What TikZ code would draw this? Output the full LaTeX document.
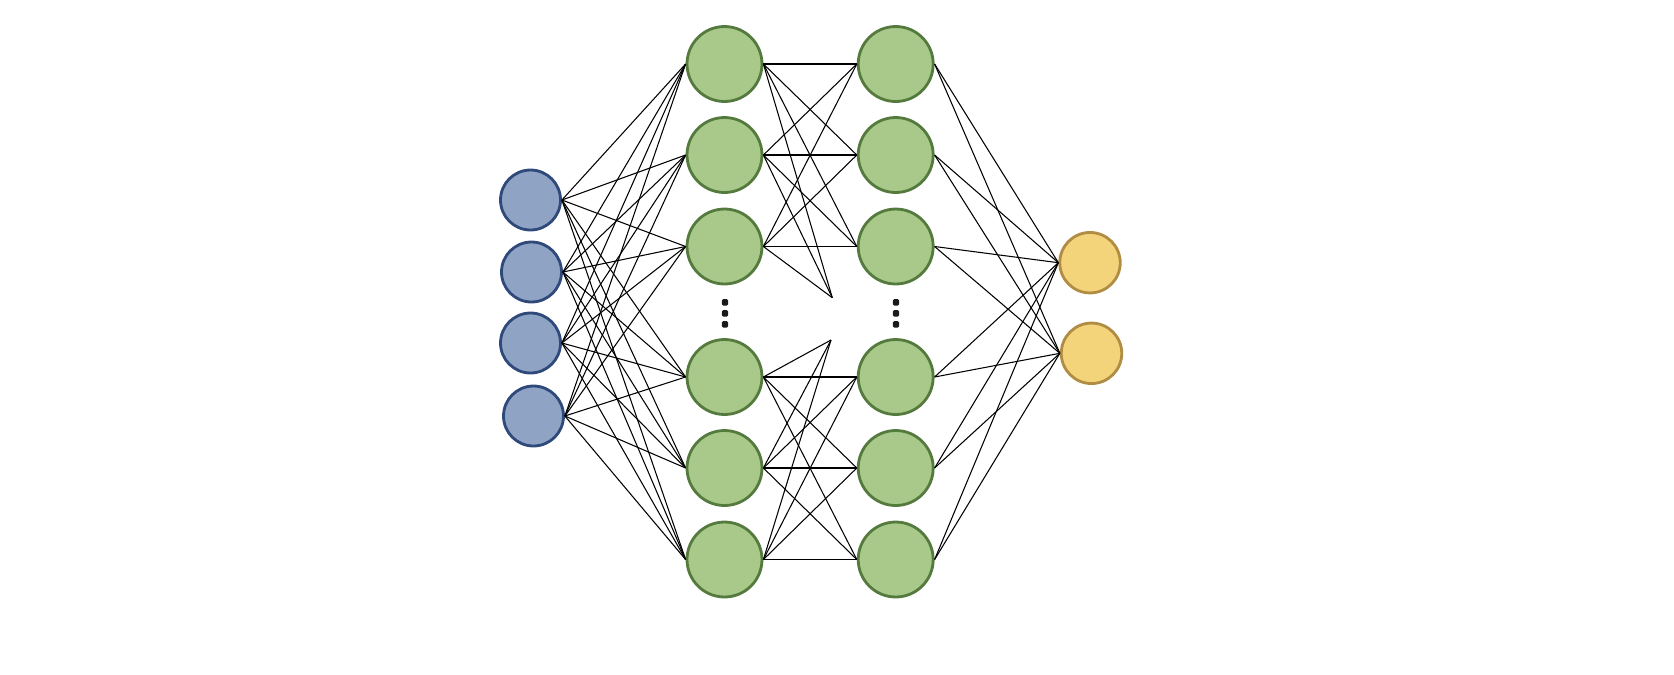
\documentclass[tikz,border=0pt]{standalone}
\usepackage{tikz}

\definecolor{infill}{HTML}{8FA3C4}
\definecolor{inborder}{HTML}{2F4A7A}
\definecolor{hidfill}{HTML}{A9C98B}
\definecolor{hidborder}{HTML}{557A3E}
\definecolor{outfill}{HTML}{F3D47B}
\definecolor{outborder}{HTML}{B08D42}
\definecolor{dotcolor}{HTML}{1A1A1A}

\begin{document}
\begin{tikzpicture}[x=0.02cm, y=-0.02cm,
    inputnode/.style={circle, draw=inborder, fill=infill, line width=1.6pt, minimum size=1.2cm, inner sep=0pt},
    hiddennode/.style={circle, draw=hidborder, fill=hidfill, line width=1.6pt, minimum size=1.5cm, inner sep=0pt},
    outputnode/.style={circle, draw=outborder, fill=outfill, line width=1.6pt, minimum size=1.21cm, inner sep=0pt},
    link/.style={black, line width=0.6pt}]
      \useasboundingbox (0,0) rectangle (1674,674);

      % input layer
      \node[inputnode] (i1) at (530.5,200) {};
      \node[inputnode] (i2) at (531.5,272) {};
      \node[inputnode] (i3) at (530.5,343) {};
      \node[inputnode] (i4) at (533.5,416) {};

      % two hidden layers
      \foreach \r/\y in {1/64,2/155,3/246.5,4/377,5/468,6/559.5} {
        \node[hiddennode] (a\r) at (724.5,\y) {};
        \node[hiddennode] (b\r) at (895.7,\y) {};
      }

      % output layer
      \node[outputnode] (o1) at (1090,262.7) {};
      \node[outputnode] (o2) at (1091.5,353.3) {};

      % dots for the hidden units left out
      \foreach \x in {725,896}
        \foreach \y in {302.3,313.3,324.3}
          \fill[dotcolor, rounded corners=0.8pt] (\x-3.2,\y-3.2) rectangle (\x+3.2,\y+3.2);

      \coordinate (up) at (832.3,297.7);
      \coordinate (lo) at (831,340);

      \foreach \i in {1,...,4}
        \foreach \j in {1,...,6}
          \draw[link] (i\i.east) -- (a\j.west);
      \foreach \i in {1,2,3} {
        \draw[link] (a\i.east) -- (up);
        \foreach \j in {1,2,3}
          \draw[link] (a\i.east) -- (b\j.west);
      }
      \foreach \i in {4,5,6} {
        \draw[link] (a\i.east) -- (lo);
        \foreach \j in {4,5,6}
          \draw[link] (a\i.east) -- (b\j.west);
      }
      \foreach \i in {1,...,6}
        \foreach \j in {1,2}
          \draw[link] (b\i.east) -- (o\j.west);

\end{tikzpicture}
\end{document}
